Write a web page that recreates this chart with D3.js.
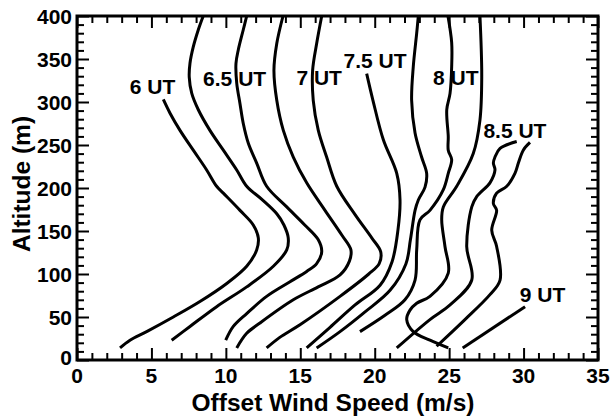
<!DOCTYPE html>
<html>
<head>
<meta charset="utf-8">
<script src="https://cdn.jsdelivr.net/npm/d3@7"></script>
<style>
  html, body { margin: 0; padding: 0; background: #fff; }
  svg { display: block; }
  text { font-family: "Liberation Sans", Arial, Helvetica, sans-serif; font-weight: bold; fill: #000; }
</style>
</head>
<body>
<svg id="chart" width="611" height="419"></svg>
<script>
// Offset wind-speed profiles: [offset wind speed (m/s), altitude (m)]
const prof0600 = [[5.80,303],[6.25,287],[6.92,267],[7.81,244],[8.71,221],[9.38,202],[9.83,194],[10.95,174],[11.84,157],[12.18,142],[12.07,128],[11.40,109],[10.06,89],[8.26,68],[6.47,50],[4.68,33],[3.56,23],[2.89,14]];
const prof0615 = [[8.48,400],[8.15,384],[7.81,364],[7.59,345],[7.54,329],[7.71,310],[8.15,291],[8.93,267],[9.83,244],[10.73,221],[11.40,202],[12.40,187],[13.42,170],[13.90,157],[14.19,142],[14.09,128],[13.19,109],[11.40,85],[9.38,62],[7.59,39],[6.36,23]];
const prof0630 = [[11.40,400],[11.17,384],[10.84,361],[10.68,345],[10.73,322],[10.95,298],[11.17,275],[11.51,252],[12.07,229],[12.74,202],[14.09,178],[15.30,157],[16.20,140],[16.44,126],[16.10,112],[15.43,103],[14.31,91],[12.74,74],[11.40,54],[10.50,39],[9.99,23]];
const prof0645 = [[13.84,400],[13.42,368],[13.23,337],[13.42,302],[13.86,267],[14.53,236],[15.43,206],[16.66,174],[17.80,145],[18.40,128],[18.30,115],[17.67,99],[16.20,85],[14.53,70],[12.29,43],[11.40,31],[10.73,14]];
const prof0700 = [[16.44,400],[16.10,368],[15.83,337],[15.87,302],[16.21,267],[16.77,236],[17.45,202],[18.68,169],[19.80,142],[20.40,126],[20.30,112],[19.60,100],[17.67,74],[14.98,41],[13.60,26],[12.74,14]];
const prof0730 = [[19.46,333],[19.88,302],[20.58,256],[21.48,217],[21.70,186],[21.56,151],[21.16,114],[20.36,87],[18.68,64],[17.00,38],[15.43,14]];
const prof0745 = [[22.93,400],[22.82,380],[22.59,341],[22.48,302],[22.71,264],[23.15,236],[23.49,217],[23.38,201],[22.93,186],[22.71,174],[22.40,140],[22.10,112],[21.03,81],[19.35,56],[17.67,33],[16.10,14]];
const prof0800 = [[24.92,400],[25.17,369],[25.17,341],[25.06,310],[24.84,291],[24.94,260],[24.94,244],[25.17,233],[24.94,217],[24.61,198],[23.71,174],[23.04,163],[22.82,128],[22.71,93],[22.03,70],[20.69,52],[19.01,33]];
const prof0815 = [[27.07,400],[27.19,329],[27.07,279],[26.62,240],[25.51,202],[24.61,178],[24.50,163],[24.72,132],[24.94,101],[23.71,74],[22.82,66],[22.37,58],[22.15,47],[22.59,33],[23.71,23],[24.94,14]];
const prof0830a = [[29.54,254],[28.42,246],[28.08,236],[27.97,229],[28.08,221],[27.74,206],[26.85,190],[26.52,178],[26.18,132],[26.52,93],[25.06,64],[23.71,47],[21.48,14]];
const prof0830b = [[30.43,253],[29.98,244],[29.65,229],[29.42,217],[28.87,202],[28.19,194],[27.97,182],[28.19,174],[27.86,151],[28.19,132],[28.42,93],[27.74,76],[26.06,47],[24.16,16]];
const prof0900 = [[25.91,14],[30.10,62]];

const profiles = [prof0600, prof0615, prof0630, prof0645, prof0700, prof0730,
                  prof0745, prof0800, prof0815, prof0830a, prof0830b, prof0900];

// Time labels placed beside their profiles: text, speed (m/s), altitude (m)
const labelText = ["6 UT", "6.5 UT", "7 UT", "7.5 UT", "8 UT", "8.5 UT", "9 UT"];
const labelX    = [5.08, 10.59, 16.27, 20.02, 25.45, 29.42, 31.27];
const labelY    = [309, 318.6, 319.8, 339, 319.8, 257.8, 67.8];

// Axis ticks
const xTickValues = [0, 5, 10, 15, 20, 25, 30, 35];
const yTickValues = [0, 50, 100, 150, 200, 250, 300, 350, 400];
const xMinorTicks = d3.range(0, 36, 1);
const yMinorTicks = d3.range(0, 401, 10);

const svg = d3.select("#chart");
const plotLeft = 77, plotRight = 598, plotTop = 16, plotBottom = 360;

const x = d3.scaleLinear().domain([0, 35]).range([plotLeft, plotRight]);
const y = d3.scaleLinear().domain([0, 400]).range([plotBottom, plotTop]);

const majorLen = 12, minorLen = 7;

// Inward ticks on all four sides
function tickAxis(axisGen, transform) {
  const g = svg.append("g").attr("transform", transform).call(axisGen);
  g.select(".domain").remove();
  g.selectAll("text").remove();
  g.selectAll("line").attr("stroke", "#000").attr("stroke-width", 2);
  return g;
}
const minorX = v => !xTickValues.includes(v);
const minorY = v => !yTickValues.includes(v);

tickAxis(d3.axisBottom(x).tickValues(xMinorTicks.filter(minorX)).tickSize(-minorLen), `translate(0,${plotBottom})`);
tickAxis(d3.axisBottom(x).tickValues(xTickValues).tickSize(-majorLen), `translate(0,${plotBottom})`);
tickAxis(d3.axisTop(x).tickValues(xMinorTicks.filter(minorX)).tickSize(-minorLen), `translate(0,${plotTop})`);
tickAxis(d3.axisTop(x).tickValues(xTickValues).tickSize(-majorLen), `translate(0,${plotTop})`);
tickAxis(d3.axisLeft(y).tickValues(yMinorTicks.filter(minorY)).tickSize(-minorLen), `translate(${plotLeft},0)`);
tickAxis(d3.axisLeft(y).tickValues(yTickValues).tickSize(-majorLen), `translate(${plotLeft},0)`);
tickAxis(d3.axisRight(y).tickValues(yMinorTicks.filter(minorY)).tickSize(-minorLen), `translate(${plotRight},0)`);
tickAxis(d3.axisRight(y).tickValues(yTickValues).tickSize(-majorLen), `translate(${plotRight},0)`);

// Frame
svg.append("rect")
  .attr("x", plotLeft).attr("y", plotTop)
  .attr("width", plotRight - plotLeft).attr("height", plotBottom - plotTop)
  .attr("fill", "none").attr("stroke", "#000").attr("stroke-width", 3);

// Tick labels
svg.append("g").selectAll("text").data(xTickValues).join("text")
  .attr("x", d => x(d)).attr("y", 383)
  .attr("text-anchor", "middle").attr("font-size", 21)
  .text(d => d);
svg.append("g").selectAll("text").data(yTickValues).join("text")
  .attr("x", 72).attr("y", d => y(d) + 7.5 - (d === 0 ? 3 : 0))
  .attr("text-anchor", "end").attr("font-size", 21)
  .text(d => d);

// Axis titles
svg.append("text")
  .attr("x", 333).attr("y", 411)
  .attr("text-anchor", "middle").attr("font-size", 24.5)
  .text("Offset Wind Speed (m/s)");
svg.append("text")
  .attr("transform", `translate(30,184) rotate(-90)`)
  .attr("text-anchor", "middle").attr("font-size", 24.5)
  .text("Altitude (m)");

// Profiles
const line = d3.line()
  .x(d => x(d[0])).y(d => y(d[1]))
  .curve(d3.curveCatmullRom.alpha(0.5));

svg.append("g").selectAll("path").data(profiles).join("path")
  .attr("d", line)
  .attr("fill", "none").attr("stroke", "#000")
  .attr("stroke-width", 3).attr("stroke-linecap", "butt").attr("stroke-linejoin", "round");

// Time labels
svg.append("g").selectAll("text").data(labelText).join("text")
  .attr("x", (d, i) => x(labelX[i])).attr("y", (d, i) => y(labelY[i]))
  .attr("text-anchor", "middle").attr("font-size", 21)
  .text(d => d);
</script>
</body>
</html>
